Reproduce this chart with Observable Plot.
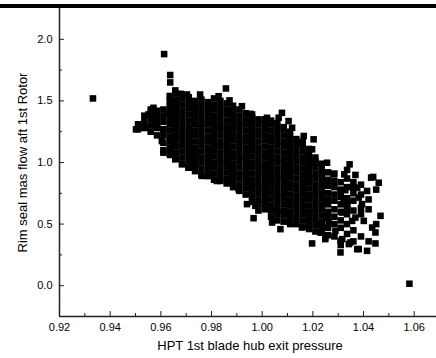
<!DOCTYPE html>
<html><head><meta charset="utf-8">
<script src="https://cdn.jsdelivr.net/npm/d3@7"></script>
<script src="https://cdn.jsdelivr.net/npm/@observablehq/plot@0.6"></script>
<style>
body{margin:0;background:#fff;}
#wrap{position:relative;width:436px;height:358px;overflow:hidden;background:#fff}
#bar{position:absolute;left:0;top:4px;width:436px;height:4px;background:#000}
</style></head><body><div id="wrap"><div id="bar"></div></div>
<script>
const xTitle = "HPT 1st blade hub exit pressure";
const yTitle = "Rim seal mas flow aft 1st Rotor";
const xDomain = [0.92, 1.0688];
const yDomain = [-0.25, 2.25];
const xTicks = [0.92, 0.94, 0.96, 0.98, 1.00, 1.02, 1.04, 1.06];
const xMinor = [0.93, 0.95, 0.97, 0.99, 1.01, 1.03, 1.05];
const yTicks = [0.0, 0.5, 1.0, 1.5, 2.0];
const yMinor = [0.25, 0.75, 1.25, 1.75];

// isolated points
const outliers = [[0.9332,1.52],[0.9613,1.88],[1.0581,0.016]];

// points along the outline of the cloud
const edgePoints = [
[0.9637,1.71],[0.9637,1.65],[0.9657,1.585],[0.9679,1.557],[0.9703,1.552],[0.9755,1.552],[0.9828,1.538],[0.9857,1.601],
[0.9871,1.504],[0.992,1.457],[0.9953,1.395],[0.966,1.484],[0.9716,1.484],[0.9571,1.444],[0.9551,1.39],[0.9584,1.39],
[0.9624,1.395],[0.9538,1.282],[0.9577,1.309],[0.961,1.269],[0.9604,1.174],[0.965,1.147],[0.9502,1.269],[0.961,1.08],
[0.9637,1.061],[0.9657,1.026],[0.9683,0.985],[0.9709,0.958],[0.9742,1.08],[0.9762,0.891],[0.9795,0.904],[0.9821,0.85],
[0.9874,0.836],[0.9907,0.783],[0.994,0.662],[0.9973,0.648],[0.9966,0.548],[1.0012,0.662],[1.0039,0.513],[1.0059,0.607],
[1.0072,0.459],[1.0111,0.5],[1.0157,0.472],[1.0197,0.343],[1.0223,0.5],[1.023,0.432],[1.0249,0.378],[1.0262,0.513],
[1.0289,0.445],[1.0309,0.364],[1.0309,0.27],[1.0342,0.338],[1.0375,0.297],[1.0336,0.662],[1.0368,0.553],[1.0375,0.796],
[1.0309,0.769],[1.0316,0.594],[1.0256,0.998],[1.0345,0.985],[1.0324,0.904],[1.0368,0.899],[1.0438,0.883],[1.046,0.836],
[1.0359,0.802],[1.0414,0.769],[1.0328,0.775],[1.0381,0.715],[1.0394,0.662],[1.0467,0.567],[1.0401,0.526],[1.0434,0.472],
[1.0447,0.432],[1.0355,0.526],[1.0316,0.378],[1.0348,0.351],[1.0381,0.297],[1.0414,0.283],[1.0447,0.343],[1.0249,0.392],
[1.0322,0.675],[0.996,1.39],[1.0019,1.363],[1.0078,1.403],[1.0065,1.363],[1.0104,1.336],[1.0118,1.282],[1.0085,1.287],
[1.0164,1.215],[1.0203,1.188],[1.0138,1.161],[1.0197,1.107],[1.021,0.998],[1.0282,0.904],[1.043,0.877]
];

// dense core, read column by column: [x, y values...]
const coreColumns = [
[0.951,1.27,1.31],
[0.9535,1.28,1.33,1.38],
[0.956,1.25,1.30,1.35,1.40,1.43],
[0.9585,1.22,1.28,1.32,1.37,1.42],
[0.961,1.10,1.16,1.22,1.27,1.33,1.38,1.43],
[0.9635,1.07,1.12,1.17,1.21,1.26,1.31,1.35,1.40,1.45,1.50,1.54],
[0.966,1.03,1.08,1.13,1.18,1.22,1.27,1.32,1.36,1.41,1.46,1.51,1.56],
[0.9685,0.99,1.04,1.09,1.14,1.19,1.23,1.28,1.33,1.38,1.42,1.47,1.52],
[0.971,0.96,1.01,1.06,1.11,1.15,1.20,1.25,1.29,1.34,1.39,1.44,1.48,1.53],
[0.9735,0.93,0.98,1.03,1.07,1.12,1.17,1.22,1.26,1.31,1.36,1.40,1.45,1.50],
[0.976,0.90,0.95,1.00,1.04,1.09,1.14,1.18,1.23,1.28,1.32,1.37,1.42,1.46,1.51],
[0.9785,0.89,0.93,0.98,1.03,1.07,1.12,1.17,1.21,1.26,1.31,1.35,1.40,1.45,1.49],
[0.981,0.86,0.91,0.96,1.00,1.05,1.10,1.14,1.19,1.24,1.28,1.33,1.38,1.43,1.47,1.52],
[0.9835,0.85,0.89,0.94,0.99,1.03,1.08,1.13,1.17,1.22,1.27,1.31,1.36,1.41,1.45,1.50],
[0.986,0.83,0.87,0.92,0.97,1.01,1.06,1.11,1.15,1.20,1.25,1.29,1.34,1.39,1.43,1.48],
[0.9885,0.80,0.85,0.90,0.94,0.99,1.04,1.08,1.13,1.18,1.22,1.27,1.32,1.36,1.41,1.46],
[0.991,0.77,0.82,0.87,0.91,0.96,1.01,1.05,1.10,1.15,1.19,1.24,1.29,1.33,1.38,1.43],
[0.9935,0.74,0.79,0.84,0.89,0.93,0.98,1.03,1.07,1.12,1.17,1.21,1.26,1.31,1.35,1.40],
[0.996,0.68,0.72,0.77,0.82,0.86,0.91,0.96,1.00,1.05,1.10,1.14,1.19,1.24,1.28,1.33,1.37],
[0.9985,0.61,0.66,0.70,0.75,0.80,0.84,0.89,0.94,0.98,1.03,1.08,1.12,1.17,1.22,1.26,1.31,1.35],
[1.001,0.62,0.66,0.71,0.76,0.80,0.85,0.90,0.94,0.99,1.04,1.08,1.13,1.18,1.22,1.27,1.32,1.35],
[1.0035,0.56,0.61,0.65,0.70,0.75,0.79,0.84,0.89,0.93,0.98,1.03,1.07,1.12,1.17,1.21,1.26,1.31,1.34],
[1.006,0.53,0.58,0.62,0.67,0.72,0.76,0.81,0.86,0.90,0.95,1.00,1.04,1.09,1.14,1.18,1.23,1.28,1.32],
[1.0085,0.52,0.57,0.61,0.66,0.71,0.75,0.80,0.85,0.89,0.94,0.99,1.03,1.08,1.13,1.17,1.22,1.27],
[1.011,0.51,0.55,0.60,0.65,0.69,0.74,0.79,0.83,0.88,0.93,0.97,1.02,1.07,1.11,1.16,1.21,1.25],
[1.0135,0.50,0.54,0.59,0.64,0.68,0.73,0.78,0.82,0.87,0.92,0.96,1.01,1.06,1.10,1.15,1.19],
[1.016,0.48,0.53,0.58,0.62,0.67,0.72,0.76,0.81,0.86,0.90,0.95,1.00,1.04,1.09,1.14,1.17],
[1.0185,0.46,0.51,0.56,0.60,0.65,0.70,0.74,0.79,0.84,0.88,0.93,0.98,1.02,1.07,1.11],
[1.021,0.44,0.49,0.54,0.59,0.63,0.68,0.73,0.77,0.82,0.87,0.91,0.96,1.01,1.04],
[1.0235,0.43,0.48,0.52,0.57,0.62,0.66,0.71,0.76,0.80,0.85,0.90,0.94,0.99],
[1.026,0.41,0.47,0.55,0.60,0.66,0.70,0.75,0.81,0.86,0.92],
[1.0285,0.40,0.50,0.56,0.62,0.69,0.74,0.80,0.85,0.91],
[1.031,0.33,0.47,0.53,0.60,0.66,0.72,0.78,0.84],
[1.0335,0.42,0.50,0.58,0.63,0.71,0.80,0.87,0.94],
[1.036,0.36,0.45,0.61,0.69,0.75,0.84],
[1.039,0.40,0.58,0.63,0.74,0.82],
[1.042,0.36,0.62,0.70],
[1.045,0.50,0.78]
];

const points = [
  ...outliers.map(([x, y]) => ({x, y})),
  ...edgePoints.map(([x, y]) => ({x, y})),
  ...coreColumns.flatMap(([x, ...ys]) => ys.map(y => ({x, y})))
];

const chart = Plot.plot({
  width: 436, height: 358,
  marginTop: 8, marginBottom: 42, marginLeft: 59, marginRight: 0,
  style: {fontFamily: "'Liberation Sans', Arial, sans-serif", fontSize: "11px", background: "white", color: "#000", overflow: "visible"},
  x: {domain: xDomain},
  y: {domain: yDomain},
  marks: [
    Plot.dot(points, {x: "x", y: "y", symbol: "square", r: 3.7, fill: "#000", stroke: "none"}),
    Plot.ruleX([xDomain[0]], {stroke: "#222", strokeWidth: 1.5}),
    Plot.ruleY([yDomain[0]], {stroke: "#222", strokeWidth: 1.5}),
    Plot.axisX({ticks: xTicks, tickFormat: d => d.toFixed(2), tickSize: -5, tickPadding: 12, label: null, stroke: "#222"}),
    Plot.axisX({ticks: xMinor, tickFormat: () => "", tickSize: -3, label: null, stroke: "#222"}),
    Plot.axisY({ticks: yTicks, tickFormat: d => d.toFixed(1), tickSize: -5, tickPadding: 12, label: null, stroke: "#222"}),
    Plot.axisY({ticks: yMinor, tickFormat: () => "", tickSize: -3, label: null, stroke: "#222"}),
    Plot.text([xTitle], {frameAnchor: "bottom", dy: 33, dx: 2, fontSize: 13, fill: "#000"}),
    Plot.text([yTitle], {frameAnchor: "left", textAnchor: "middle", dx: -37, rotate: -90, fontSize: 13, fill: "#000"})
  ]
});
const wrap = document.getElementById("wrap");
wrap.insertBefore(chart, wrap.firstChild);
</script>
</body></html>
